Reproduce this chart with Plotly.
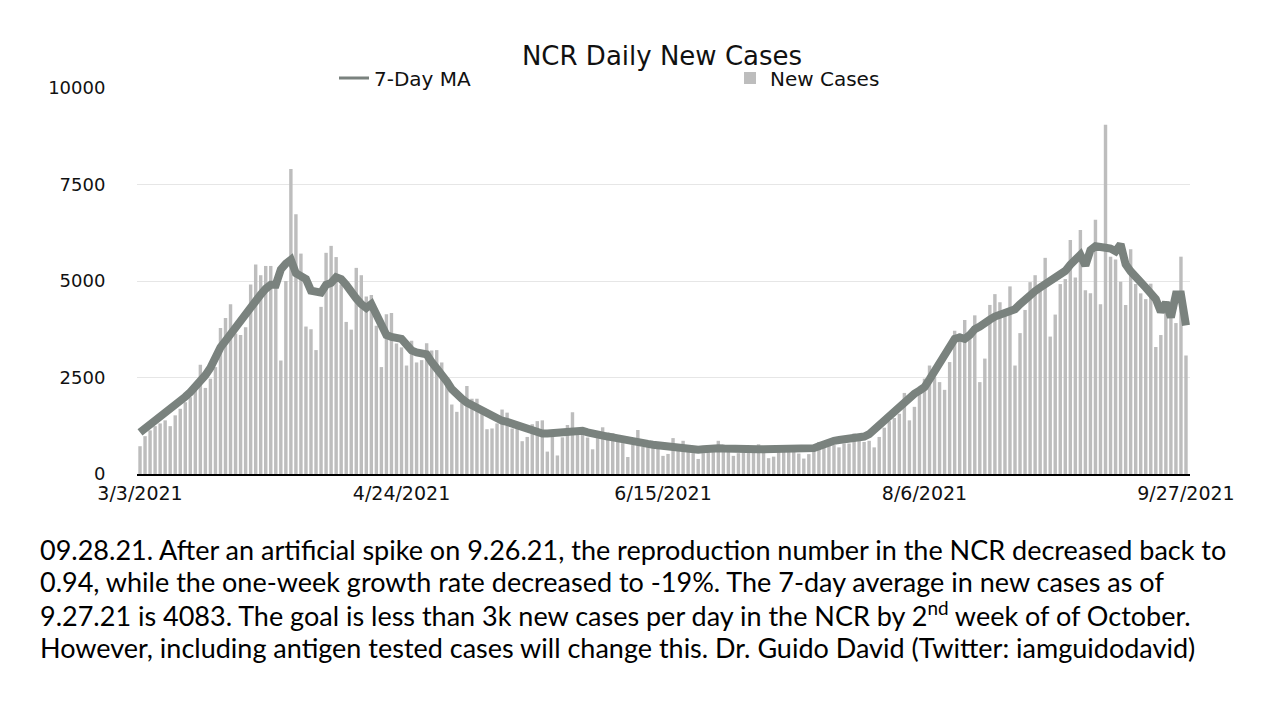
import pandas as pd
import plotly.graph_objects as go

start_date = "2021-03-03"
n_days = 209

new_cases = [
    720, 980, 1130, 1240, 1310, 1390, 1240, 1520, 1690, 1860,
    1990, 2210, 2830, 2230, 2470, 2770, 3780, 4040, 4400, 3640,
    3600, 3800, 4910, 5430, 5150, 5390, 5390, 5000, 2940, 5000,
    7900, 6730, 5710, 3820, 3750, 3210, 4330, 5730, 5910, 5620,
    4910, 3940, 3740, 5340, 5150, 4600, 4640, 3840, 2770, 4140,
    4170, 3380, 3280, 2810, 3450, 2890, 2950, 3390, 3200, 3210,
    2890, 2340, 1800, 1610, 1850, 2280, 1950, 1950, 1560, 1160,
    1180, 1310, 1670, 1590, 1180, 1170, 850, 960, 1290, 1370,
    1390, 580, 1000, 480, 950, 1270, 1600, 1010, 1010, 945,
    640, 930, 1210, 1070, 1060, 840, 800, 440, 760, 1140,
    710, 710, 670, 650, 470, 520, 930, 630, 860, 630,
    540, 390, 540, 560, 580, 860, 760, 580, 470, 540,
    560, 580, 560, 770, 580, 410, 450, 750, 720, 620,
    620, 530, 400, 515, 620, 830, 750, 830, 750, 690,
    790, 790, 1050, 860, 830, 860, 690, 960, 1200, 1370,
    1450, 1560, 2100, 1390, 1740, 2060, 2470, 2810, 2510, 2380,
    2180, 2900, 3710, 3640, 3990, 3520, 4110, 2380, 2990, 4380,
    4660, 4450, 4160, 4860, 2810, 3650, 4250, 4970, 5150, 4920,
    5600, 3560, 4130, 4920, 5050, 6060, 5090, 6320, 4760, 4680,
    6590, 4400, 9050, 5630, 5560, 4980, 4380, 5820, 4920, 4680,
    4530, 4930, 3290, 3600, 4230, 4140, 3910, 5630, 3070,
]

ma7 = [
    1080, 1180, 1260, 1350, 1450, 1560, 1660, 1770, 1880, 2000,
    2120, 2250, 2400, 2560, 2750, 3050, 3280, 3450, 3620, 3800,
    3980, 4200, 4380, 4500, 4650, 4800, 4900, 4900, 5300, 5450,
    5550, 5200, 5150, 5050, 4750, 4700, 4700, 4900, 4950, 5100,
    5050, 4900, 4700, 4550, 4400, 4300, 4400, 4100, 3800, 3600,
    3550, 3550, 3500, 3350, 3200, 3150, 3100, 3100, 2900, 2750,
    2550, 2400, 2200, 2050, 1950, 1850, 1780, 1720, 1620, 1550,
    1480, 1420, 1380, 1350, 1300, 1260, 1220, 1160, 1100, 1060,
    1050, 1050, 1060, 1080, 1130, 1140, 1140, 1130, 1120, 1080,
    1040, 1010, 990, 970, 950, 920, 900, 860, 820, 810,
    800, 780, 760, 740, 720, 700, 700, 680, 660, 640,
    630, 630, 640, 660, 680, 670, 660, 650, 640, 630,
    630, 630, 630, 640, 640, 640, 650, 660, 650, 640,
    630, 620, 630, 640, 670, 720, 780, 830, 860, 880,
    900, 920, 920, 930, 970, 1030, 1150, 1300, 1420, 1520,
    1630, 1740, 1870, 1990, 2080, 2160, 2250, 2450, 2650, 2850,
    3050, 3250, 3500, 3540, 3500, 3600, 3750, 3820, 3930, 4000,
    4080, 4130, 4160, 4200, 4270, 4400, 4530, 4640, 4740, 4830,
    4920, 4980, 5050, 5130, 5260, 5420, 5560, 5680, 5400, 5800,
    5900, 5900, 5860, 5840, 5770, 5950, 5430, 5250, 5130, 4980,
    4830, 4680, 4530, 4200, 4440, 4060, 4650, 4650, 3850,
]

tick_dates = ["2021-03-03", "2021-04-24", "2021-06-15", "2021-08-06", "2021-09-27"]
tick_labels = ["3/3/2021", "4/24/2021", "6/15/2021", "8/6/2021", "9/27/2021"]
y_ticks = [0, 2500, 5000, 7500, 10000]

caption_lines = [
    "09.28.21. After an artificial spike on 9.26.21, the reproduction number in the NCR decreased back to",
    "0.94, while the one-week growth rate decreased to -19%. The 7-day average in new cases as of",
    "9.27.21 is 4083. The goal is less than 3k new cases per day in the NCR by 2<sup>nd</sup> week of of October.",
    "However, including antigen tested cases will change this. Dr. Guido David (Twitter: iamguidodavid)",
]

dates = pd.date_range(start_date, periods=n_days, freq="D")

W, H = 1280, 720
OFF = 8  # page body margin offset
L, R, T, B = 137 - OFF, 1190 - OFF, 88 - OFF, 474 - OFF


def px_x(px):
    return (px - OFF - L) / (R - L)


def px_y(py):
    return (B - (py - OFF)) / (B - T)


chart_font = "DejaVu Sans"
bar_color = "#bdbdbd"
line_color = "#7a827e"

fig = go.Figure()
fig.add_trace(go.Bar(
    x=dates, y=new_cases, name="New Cases", marker_color=bar_color,
    marker_line_width=0, legendrank=2,
))
fig.add_trace(go.Scatter(
    x=dates, y=ma7, name="7-Day MA", mode="lines",
    line=dict(color=line_color, width=8), showlegend=False,
))
fig.add_trace(go.Scatter(
    x=[None], y=[None], name="7-Day MA", mode="lines",
    line=dict(color=line_color, width=3), legendrank=1,
))

x0 = dates[0] - pd.Timedelta(hours=14.4)
x1 = dates[-1] + pd.Timedelta(hours=19.2)

fig.update_layout(
    width=W, height=H,
    margin=dict(l=L, r=W - R, t=T, b=H - B, pad=0),
    paper_bgcolor="white", plot_bgcolor="white",
    bargap=0.32,
    title=dict(text="NCR Daily New Cases", x=(662 - OFF) / W, xanchor="center",
               y=1 - (56 - OFF) / H, yanchor="middle", yref="container",
               font=dict(family=chart_font, size=26, color="#111")),
    legend=dict(orientation="h", x=px_x(334), xanchor="left",
                y=px_y(78), yanchor="middle",
                font=dict(family=chart_font, size=20, color="#111"),
                entrywidth=351, entrywidthmode="pixels",
                bgcolor="rgba(0,0,0,0)", borderwidth=0,
                traceorder="normal"),
    showlegend=True,
)
fig.update_xaxes(
    type="date", range=[x0, x1],
    tickvals=pd.to_datetime(tick_dates), ticktext=tick_labels,
    showgrid=False, showline=True, linecolor="black", linewidth=2,
    ticks="outside", ticklen=1, tickcolor="rgba(0,0,0,0)",
    tickfont=dict(family=chart_font, size=19, color="#111"),
)
fig.update_yaxes(
    range=[0, 10000], tickvals=y_ticks, ticktext=[str(v) for v in y_ticks],
    showgrid=True, gridcolor="#e6e6e6", gridwidth=1, zeroline=False,
    showline=False, ticks="outside", ticklen=27, tickcolor="rgba(0,0,0,0)",
    tickfont=dict(family=chart_font, size=18, color="#111"),
)

line_centers = [549, 581, 614, 647]
for text, cy in zip(caption_lines, line_centers):
    fig.add_annotation(
        text=text, xref="paper", yref="paper",
        x=px_x(38), y=px_y(cy), xanchor="left", yanchor="middle",
        showarrow=False, align="left",
        font=dict(family="Lato", size=27, color="black"),
    )

fig.write_html("out.html")
